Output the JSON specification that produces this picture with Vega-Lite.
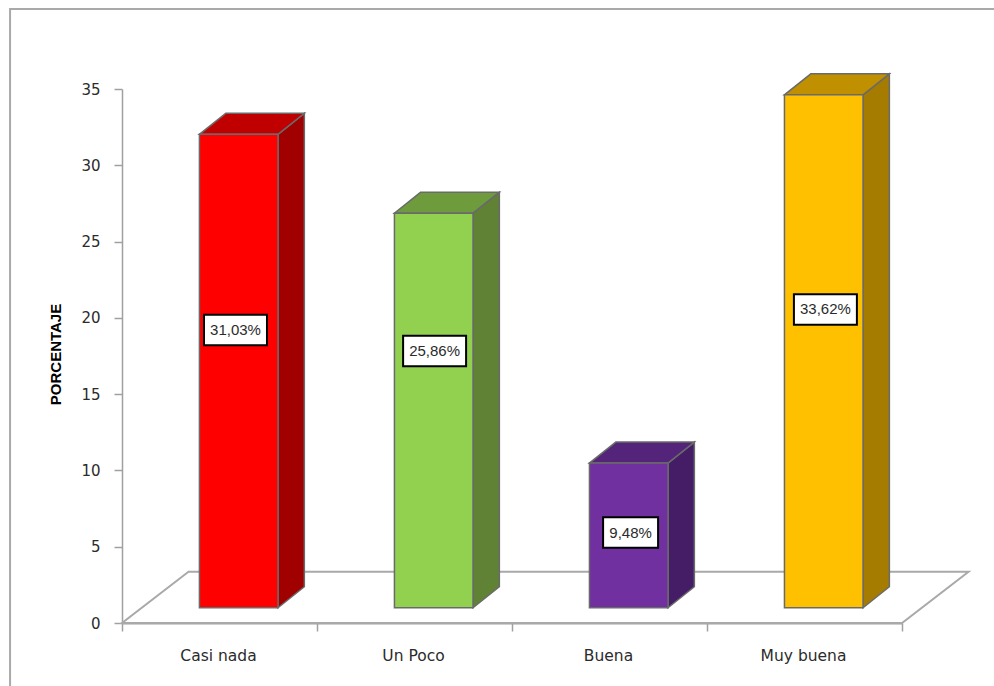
{
"$schema":"https://vega.github.io/schema/vega-lite/v6.json",
"width":860,"height":534,
"autosize":"none",
"padding":{"left":122,"top":89,"right":12,"bottom":63},
"background":"white",
"config":{"view":{"stroke":null}},
"datasets":{"barras":[
{"categoria":"Casi nada","porcentaje":31.03,"etiqueta":"31,03%","orden":0},
{"categoria":"Un Poco","porcentaje":25.86,"etiqueta":"25,86%","orden":1},
{"categoria":"Buena","porcentaje":9.48,"etiqueta":"9,48%","orden":2},
{"categoria":"Muy buena","porcentaje":33.62,"etiqueta":"33,62%","orden":3}
]},
"resolve":{"scale":{"x":"independent"},"axis":{"x":"independent"}},
"layer":[
{"data":{"name":"barras"},
 "mark":{"type":"rule","opacity":0},
 "encoding":{
  "x":{"field":"categoria","type":"nominal","sort":["Casi nada","Un Poco","Buena","Muy buena"],
   "scale":{"type":"band","range":[0,780],"paddingInner":0,"paddingOuter":0},
   "axis":{"title":null,"labelAngle":0,"tickBand":"extent","domainColor":"#a0a0a0","domainWidth":2,"tickColor":"#a0a0a0","tickWidth":1.5,"tickSize":8,
    "labelFont":"DejaVu Sans","labelFontSize":15.5,"labelColor":"#2b2b2b","labelPadding":17,"labelOffset":-1.5}}
 }},
{
"resolve":{"scale":{"fill":"independent","color":"independent"}},
"layer":[
{"data":{"values":[{"marco":"exterior"}]},
 "mark":{"type":"rect","fill":"transparent","stroke":"#a9a9a9","strokeWidth":2,"clip":false},
 "encoding":{
  "x":{"datum":-0.574,"type":"quantitative","scale":{"domain":[0,4.41],"nice":false,"zero":false},"axis":null},
  "x2":{"datum":5},
  "y":{"datum":40.24,"type":"quantitative","scale":{"domain":[0,35],"nice":false},
   "axis":{"title":"PORCENTAJE","titleFont":"Liberation Sans","titleFontSize":15,"titleFontWeight":"bold","titleColor":"#000000","titlePadding":17,"titleY":265,
    "values":[0,5,10,15,20,25,30,35],"grid":false,"domainColor":"#a0a0a0","domainWidth":1.5,"tickColor":"#a0a0a0","tickWidth":1.5,"tickSize":8,
    "labelFont":"DejaVu Sans","labelFontSize":15,"labelColor":"#2b2b2b","labelPadding":14}},
  "y2":{"datum":-10}
 }},
{"data":{"values":[{"a":0,"b":1}]},
 "transform":[{"fold":["a","b"],"as":["k","t"]},{"calculate":"datum.t*3.36","as":"py"},{"calculate":"datum.t*0.341","as":"px"},{"calculate":"4+datum.t*0.341","as":"px2"}],
 "mark":{"type":"area","orient":"horizontal","fill":"transparent","stroke":"#a9a9a9","strokeWidth":2},
 "encoding":{"x":{"field":"px","type":"quantitative","axis":null},"x2":{"field":"px2"},"y":{"field":"py","type":"quantitative"}}},
{"data":{"name":"barras"},
 "transform":[{"calculate":"0","as":"p0"},{"calculate":"1","as":"p1"},{"fold":["p0","p1"],"as":["k","t"]},
  {"calculate":"datum.orden+0.8+datum.t*0.135","as":"sx"},{"calculate":"1+datum.t*1.376","as":"sy"},{"calculate":"datum.porcentaje+1+datum.t*1.376","as":"sy2"}],
 "mark":{"type":"area","stroke":"#6a6a6a","strokeWidth":1.5},
 "encoding":{"x":{"field":"sx","type":"quantitative","axis":null},"y":{"field":"sy","type":"quantitative"},"y2":{"field":"sy2"},
  "color":{"field":"categoria","type":"nominal","legend":null,"scale":{"domain":["Casi nada","Un Poco","Buena","Muy buena"],"range":["#a00000","#5f8234","#451d67","#a67c00"]}}}},
{"data":{"name":"barras"},
 "transform":[{"calculate":"0","as":"p0"},{"calculate":"1","as":"p1"},{"fold":["p0","p1"],"as":["k","t"]},
  {"calculate":"datum.orden+0.397+datum.t*0.135","as":"tx"},{"calculate":"datum.orden+0.8+datum.t*0.135","as":"tx2"},{"calculate":"datum.porcentaje+1+datum.t*1.376","as":"ty"}],
 "mark":{"type":"area","orient":"horizontal","stroke":"#6a6a6a","strokeWidth":1.5},
 "encoding":{"x":{"field":"tx","type":"quantitative","axis":null},"x2":{"field":"tx2"},"y":{"field":"ty","type":"quantitative"},
  "fill":{"field":"categoria","type":"nominal","legend":null,"scale":{"domain":["Casi nada","Un Poco","Buena","Muy buena"],"range":["#c00000","#6e9c3c","#54247a","#c09000"]}}}},
{"data":{"name":"barras"},
 "transform":[{"calculate":"datum.orden+0.397","as":"fx"},{"calculate":"datum.orden+0.8","as":"fx2"},{"calculate":"1","as":"fy"},{"calculate":"datum.porcentaje+1","as":"fy2"}],
 "mark":{"type":"rect","stroke":"#6a6a6a","strokeWidth":1.5},
 "encoding":{"x":{"field":"fx","type":"quantitative","axis":null},"x2":{"field":"fx2"},"y":{"field":"fy","type":"quantitative"},"y2":{"field":"fy2"},
  "fill":{"field":"categoria","type":"ordinal","legend":null,"scale":{"domain":["Casi nada","Un Poco","Buena","Muy buena"],"range":["#ff0000","#92d050","#7030a0","#ffc000"]}}}},
{"data":{"name":"barras"},
 "transform":[{"calculate":"datum.orden+[0.582,0.603,0.608,0.607][datum.orden]","as":"cx"},{"calculate":"[19.2,17.83,5.93,20.55][datum.orden]","as":"cy"},
  {"calculate":"length(datum.etiqueta)==6?0.1615:0.141","as":"hw"},{"calculate":"datum.cx-datum.hw","as":"bx"},{"calculate":"datum.cx+datum.hw","as":"bx2"},{"calculate":"datum.cy-1","as":"by"},{"calculate":"datum.cy+1","as":"by2"}],
 "mark":{"type":"rect","fill":"white","stroke":"#000000","strokeWidth":2},
 "encoding":{"x":{"field":"bx","type":"quantitative","axis":null},"x2":{"field":"bx2"},"y":{"field":"by","type":"quantitative"},"y2":{"field":"by2"}}},
{"data":{"name":"barras"},
 "transform":[{"calculate":"datum.orden+[0.582,0.603,0.608,0.607][datum.orden]","as":"cx"},{"calculate":"[19.2,17.83,5.93,20.55][datum.orden]","as":"cy"}],
 "mark":{"type":"text","font":"Liberation Sans","fontSize":15,"color":"#2b2b2b","baseline":"middle","align":"center"},
 "encoding":{"x":{"field":"cx","type":"quantitative","axis":null},"y":{"field":"cy","type":"quantitative"},"text":{"field":"etiqueta"}}}
]}
]}
